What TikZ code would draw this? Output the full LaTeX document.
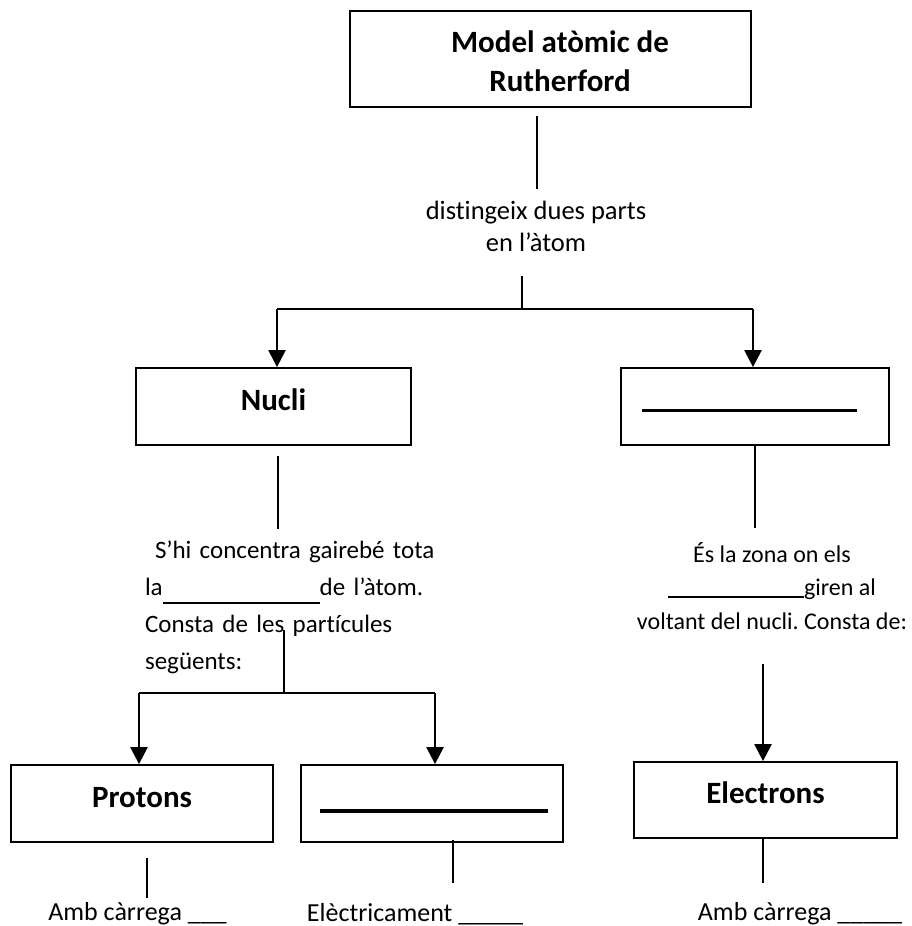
\documentclass[tikz,border=0pt]{standalone}
\usepackage{fontspec}
\setmainfont{Carlito}[Ligatures={TeX,NoCommon}]
\usetikzlibrary{arrows.meta}
\frenchspacing

\begin{document}
\begin{tikzpicture}[x=1pt,y=-1pt,
    box/.style={draw,line width=1.8pt,inner sep=0pt,minimum height=77pt,text height=18.6pt,text depth=11.6pt,font=\bfseries\fontsize{31}{38.5}\selectfont},
    note/.style={inner sep=0pt,align=center,font=\fontsize{26}{32}\selectfont},
    link/.style={line width=1.4pt},
    pointer/.style={line width=2.4pt,-{Triangle[length=17pt,width=17pt]}},
    blank/.style={line width=3pt}]
\useasboundingbox (0,0) rectangle (912,926);

\node[box,minimum width=401pt,minimum height=96pt] (Model) at (550.5,59) {};
\node[inner sep=0pt,align=center,font=\bfseries\fontsize{31}{38.5}\selectfont] (ModelText) at (560,61) {Model atòmic de\\Rutherford};
\node[note,font=\fontsize{26.5}{32}\selectfont] (Parts) at (536,226) {distingeix dues parts\\en l’àtom};
\node[box,minimum width=275pt] (Nucli) at (273.5,406.5) {Nucli};
\node[box,minimum width=268pt] (Escorca) at (755,406.5) {};
\node[note,text width=313pt,align=left,font=\fontsize{25}{37}\selectfont] (NucliText) at (301.5,607)
    {\makebox[313pt][s]{\hspace*{10pt}S’hi concentra gairebé tota}\\
     \makebox[313pt][s]{la\rule[-9pt]{157pt}{2pt}de l’àtom.}\\
     \makebox[313pt][s]{Consta de les partícules}\\
     següents:};
\node[note,font=\fontsize{24}{33.5}\selectfont] (EscorcaText) at (772,586)
    {És la zona on els\\\rule[-2pt]{136pt}{1.8pt}giren al\\voltant del nucli. Consta de:};
\node[box,minimum width=262pt] (Protons) at (142,803.5) {Protons};
\node[box,minimum width=262pt] (Neutrons) at (432,803.5) {};
\node[box,minimum width=263pt,minimum height=76pt] (Electrons) at (765.5,800) {Electrons};
\node[note,anchor=base] (ProtonsText) at (137.5,920) {Amb càrrega \_\_\_};
\node[note,anchor=base] (NeutronsText) at (415,921) {Elèctricament \_\_\_\_\_};
\node[note,anchor=base] (ElectronsText) at (800,920) {Amb càrrega \_\_\_\_\_};

\draw[blank] ([xshift=22pt,yshift=-3.5pt]Escorca.west) to ([xshift=-33pt,yshift=-3.5pt]Escorca.east);
\draw[blank,line width=4pt] ([xshift=20pt,yshift=-7.5pt]Neutrons.west) to ([xshift=-16pt,yshift=-7.5pt]Neutrons.east);

\coordinate (Fork1) at (522,309);
\coordinate (Fork2) at (284,693);
\coordinate (NucliIn) at ([xshift=3.5pt]Nucli.north);
\coordinate (EscorcaIn) at ([xshift=-2pt]Escorca.north);
\coordinate (ProtonsIn) at ([xshift=-3pt]Protons.north);
\coordinate (NeutronsIn) at ([xshift=3pt]Neutrons.north);

\draw[link] ([xshift=-13.5pt,yshift=-8pt]Model.south) to ([xshift=1pt,yshift=12pt]Parts.north);
\draw[link] ([xshift=-14pt,yshift=-24pt]Parts.south) to (Fork1);
\draw[link] (NucliIn |- Fork1) to (EscorcaIn |- Fork1);
\draw[pointer] (NucliIn |- Fork1) to (NucliIn);
\draw[pointer] (EscorcaIn |- Fork1) to (EscorcaIn);
\draw[link] ([xshift=4.5pt,yshift=-10pt]Nucli.south) to ([xshift=-23.5pt,yshift=11pt]NucliText.north);
\draw[link] (Escorca.south) to ([xshift=-17pt,yshift=14pt]EscorcaText.north);
\draw[link] ([xshift=-17.5pt,yshift=-23pt]NucliText.center) to (Fork2);
\draw[link] (ProtonsIn |- Fork2) to (NeutronsIn |- Fork2);
\draw[pointer] (ProtonsIn |- Fork2) to (ProtonsIn);
\draw[pointer] (NeutronsIn |- Fork2) to (NeutronsIn);
\draw[pointer] ([xshift=-9pt,yshift=-34pt]EscorcaText.south) to ([xshift=-2.5pt]Electrons.north);
\draw[link] ([xshift=5pt,yshift=-15pt]Protons.south) to ([xshift=9.5pt,yshift=4pt]ProtonsText.north);
\draw[link] ([xshift=21pt,yshift=3pt]Neutrons.south) to ([xshift=38pt,yshift=20pt]NeutronsText.north);
\draw[link] ([xshift=-2.5pt]Electrons.south) to ([xshift=-37pt,yshift=19pt]ElectronsText.north);
\end{tikzpicture}
\end{document}
